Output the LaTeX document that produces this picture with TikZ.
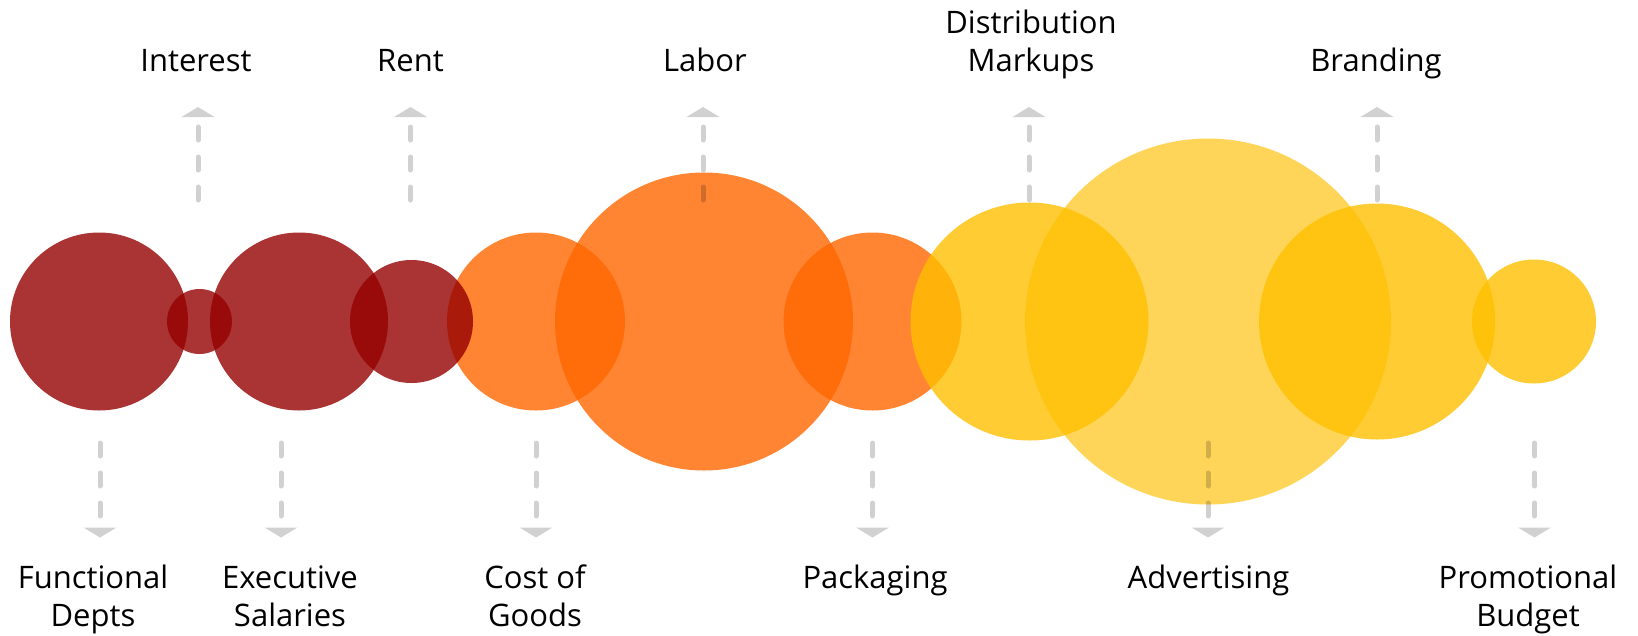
\documentclass[tikz,border=0pt]{standalone}
\usepackage{fontspec}
\setmainfont{Open Sans}
\usepackage{tikz}
\usetikzlibrary{arrows.meta}
\usepackage{xcolor}
\definecolor{rust}{HTML}{950000}
\definecolor{tangerine}{HTML}{FF6600}
\definecolor{amber}{HTML}{FFBF00}

\begin{document}
\begin{tikzpicture}[x=1pt, y=-1pt,
  bubble/.style={circle, draw=none, inner sep=0pt, minimum size=#1, fill opacity=0.8},
  flow/.style={line width=5pt, line cap=round, dash pattern=on 13pt off 17pt, opacity=0.18,
    -{Triangle[width=33pt, length=10pt, line width=0pt]}, shorten >=24pt},
  lbl/.style={font=\fontsize{31}{38}\selectfont, align=center, inner sep=0pt}]
\useasboundingbox (0,0) rectangle (1638,635);

% cost bubbles
\node[bubble=178pt, fill=tangerine] (goods) at (536,321.5) {};
\node[bubble=298pt, fill=tangerine] (labor) at (704,321.5) {};
\node[bubble=178pt, fill=tangerine] (packaging) at (872.5,321.5) {};
\node[bubble=178pt, fill=rust] (fdepts) at (99,321.5) {};
\node[bubble=65pt, fill=rust] (interest) at (199.5,321.5) {};
\node[bubble=178pt, fill=rust] (salaries) at (299,321.5) {};
\node[bubble=123pt, fill=rust] (rent) at (411.5,321.5) {};
\node[bubble=366pt, fill=amber, fill opacity=0.65] (advert) at (1208,321.5) {};
\node[bubble=238pt, fill=amber] (markups) at (1029.5,321.5) {};
\node[bubble=236pt, fill=amber] (branding) at (1377,321.5) {};
\node[bubble=124pt, fill=amber] (promo) at (1534,321.5) {};

% labels above
\node[lbl, anchor=south] (interest-lbl) at (196,83) {Interest\strut};
\node[lbl, anchor=south] (rent-lbl) at (410.5,83) {Rent\strut};
\node[lbl, anchor=south] (labor-lbl) at (705,83) {Labor\strut};
\node[lbl, anchor=south] (markups-lbl) at (1031,83) {Distribution\\Markups\strut};
\node[lbl, anchor=south] (branding-lbl) at (1376,83) {Branding\strut};

% labels below
\node[lbl, anchor=north] (fdepts-lbl) at (93,561.5) {\strut Functional\\Depts};
\node[lbl, anchor=north] (salaries-lbl) at (290,561.5) {\strut Executive\\Salaries};
\node[lbl, anchor=north] (goods-lbl) at (535,561.5) {\strut Cost of\\Goods};
\node[lbl, anchor=north] (packaging-lbl) at (875,561.5) {\strut Packaging};
\node[lbl, anchor=north] (advert-lbl) at (1208.5,561.5) {\strut Advertising};
\node[lbl, anchor=north] (promo-lbl) at (1528,561.5) {\strut Promotional\\Budget};

% arrow feet
\coordinate (interest-a) at (198,200);
\coordinate (rent-a) at (410.5,200);
\coordinate (labor-a) at (703,200);
\coordinate (markups-a) at (1029,200);
\coordinate (branding-a) at (1377,200);
\coordinate (fdepts-a) at (100,443);
\coordinate (salaries-a) at (281,443);
\coordinate (goods-a) at (536,443);
\coordinate (packaging-a) at (872.5,443);
\coordinate (advert-a) at (1208,443);
\coordinate (promo-a) at (1534.5,443);

% dashed arrows
\draw[flow] (interest-a) -- (interest-a |- interest-lbl.south);
\draw[flow] (rent-a) -- (rent-a |- rent-lbl.south);
\draw[flow] (labor-a) -- (labor-a |- labor-lbl.south);
\draw[flow] (markups-a) -- (markups-a |- markups-lbl.south);
\draw[flow] (branding-a) -- (branding-a |- branding-lbl.south);
\draw[flow] (fdepts-a) -- (fdepts-a |- fdepts-lbl.north);
\draw[flow] (salaries-a) -- (salaries-a |- salaries-lbl.north);
\draw[flow] (goods-a) -- (goods-a |- goods-lbl.north);
\draw[flow] (packaging-a) -- (packaging-a |- packaging-lbl.north);
\draw[flow] (advert-a) -- (advert-a |- advert-lbl.north);
\draw[flow] (promo-a) -- (promo-a |- promo-lbl.north);
\end{tikzpicture}
\end{document}
